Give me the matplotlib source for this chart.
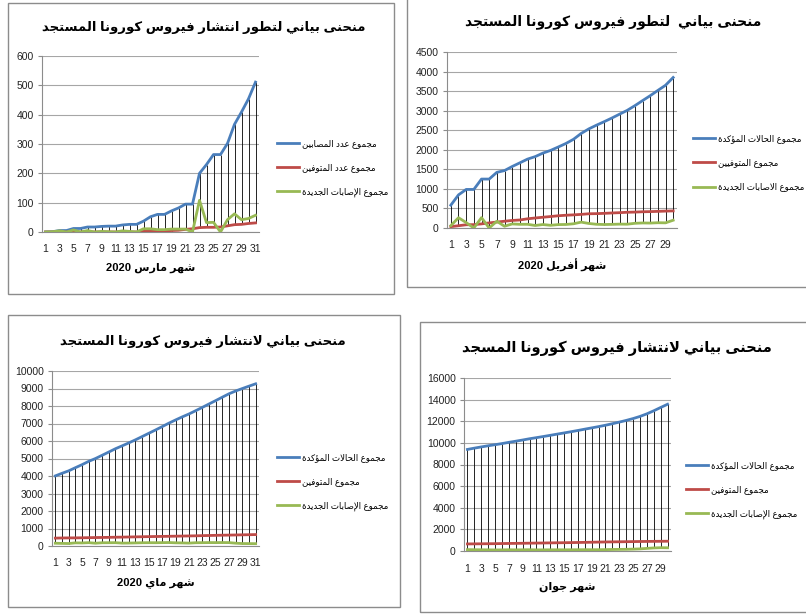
import numpy as np
import matplotlib
matplotlib.use("Agg")
import matplotlib.pyplot as plt
from matplotlib.patches import Rectangle

plt.rcParams["font.family"] = ["Liberation Sans", "DejaVu Sans"]

# ---- data ----
mar_days = list(range(1, 32))
mar_cases = [0, 1, 5, 5, 12, 12, 17, 17, 19, 20, 20, 24, 26, 26, 37, 52, 60, 60, 72, 82,
             95, 95, 200, 230, 264, 264, 302, 367, 409, 454, 511]
mar_deaths = [0, 0, 0, 0, 0, 0, 0, 0, 0, 0, 0, 0, 0, 0, 2, 3, 4, 4, 5, 6,
              9, 11, 15, 16, 16, 17, 21, 25, 26, 29, 31]
mar_new = [0, 1, 4, 0, 7, 0, 5, 0, 2, 1, 0, 4, 2, 0, 11, 11, 8, 8, 10, 10,
           10, 0, 108, 32, 33, 0, 42, 62, 42, 46, 57]

apr_days = list(range(1, 31))
apr_cases = [584, 847, 986, 986, 1251, 1251, 1423, 1468, 1572, 1666, 1761, 1825, 1914, 1983,
             2070, 2160, 2268, 2418, 2534, 2629, 2718, 2811, 2910, 3007, 3127, 3256, 3382,
             3517, 3649, 3848]
apr_deaths = [35, 58, 83, 86, 105, 130, 152, 173, 193, 205, 235, 256, 275, 293, 313, 326,
              336, 348, 364, 367, 375, 384, 392, 402, 407, 415, 419, 425, 432, 437]
apr_new = [60, 263, 139, 0, 265, 0, 172, 45, 104, 94, 95, 64, 89, 69, 87, 90, 108, 150,
           116, 95, 89, 93, 99, 97, 120, 129, 126, 135, 132, 199]

may_days = list(range(1, 32))
may_cases = [4006, 4154, 4295, 4474, 4648, 4838, 4997, 5182, 5369, 5558, 5723, 5891, 6067,
             6253, 6442, 6629, 6821, 7019, 7201, 7377, 7542, 7728, 7918, 8113, 8306, 8503,
             8697, 8857, 8997, 9134, 9267]
may_deaths = [450, 459, 463, 465, 470, 476, 483, 488, 494, 502, 507, 515, 522, 529, 536, 542,
              548, 555, 561, 568, 575, 582, 592, 600, 609, 617, 623, 630, 638, 645, 653]
may_new = [158, 148, 141, 179, 174, 190, 159, 185, 187, 189, 165, 168, 176, 186, 189, 187,
           192, 198, 182, 176, 165, 186, 190, 195, 193, 197, 194, 160, 140, 137, 133]

jun_days = list(range(1, 31))
jun_cases = [9394, 9513, 9626, 9733, 9831, 9935, 10050, 10154, 10265, 10382, 10484, 10589,
             10698, 10810, 10919, 11031, 11147, 11268, 11385, 11504, 11631, 11771, 11920,
             12076, 12248, 12445, 12685, 12968, 13273, 13571]
jun_deaths = [653, 661, 666, 673, 677, 690, 698, 705, 715, 724, 732, 741, 751, 760, 767, 777,
              788, 799, 811, 825, 836, 845, 852, 861, 869, 878, 885, 892, 897, 905]
jun_new = [127, 119, 113, 107, 98, 104, 115, 104, 111, 117, 102, 105, 109, 112, 109, 112,
           116, 121, 117, 119, 127, 140, 149, 156, 172, 197, 240, 283, 305, 298]

titles = ["منحنى بياني لتطور انتشار فيروس كورونا المستجد",
          "منحنى بياني  لتطور فيروس كورونا المستجد",
          "منحنى بياني لانتشار فيروس كورونا المستجد",
          "منحنى بياني لانتشار فيروس كورونا المسجد"]
xlabels = ["شهر مارس 2020", "شهر أفريل 2020", "شهر ماي 2020", "شهر جوان"]
legends = [["مجموع عدد المصابين", "مجموع عدد المتوفين", "مجموع الإصابات الجديدة"],
           ["مجموع الحالات المؤكدة", "مجموع المتوفيين", "مجموع الاصابات الجديدة"],
           ["مجموع الحالات المؤكدة", "مجموع المتوفين", "مجموع الإصابات الجديدة"],
           ["مجموع الحالات المؤكدة", "مجموع المتوفين", "مجموع الإصابات الجديدة"]]
yticks = [np.arange(0, 601, 100), np.arange(0, 4501, 500),
          np.arange(0, 10001, 1000), np.arange(0, 16001, 2000)]

BLUE, RED, GREEN = "#4a7ebb", "#be4b48", "#98b954"

# ---- tiny arabic shaper (matplotlib has no bidi / joining) ----
def _f(start, n):
    return [chr(start + i) for i in range(n)]

AR = {
    "ء": ["\ufe80"], "آ": _f(0xFE81, 2), "أ": _f(0xFE83, 2), "ؤ": _f(0xFE85, 2),
    "إ": _f(0xFE87, 2), "ئ": _f(0xFE89, 4), "ا": _f(0xFE8D, 2), "ب": _f(0xFE8F, 4),
    "ة": _f(0xFE93, 2), "ت": _f(0xFE95, 4), "ث": _f(0xFE99, 4), "ج": _f(0xFE9D, 4),
    "ح": _f(0xFEA1, 4), "خ": _f(0xFEA5, 4), "د": _f(0xFEA9, 2), "ذ": _f(0xFEAB, 2),
    "ر": _f(0xFEAD, 2), "ز": _f(0xFEAF, 2), "س": _f(0xFEB1, 4), "ش": _f(0xFEB5, 4),
    "ص": _f(0xFEB9, 4), "ض": _f(0xFEBD, 4), "ط": _f(0xFEC1, 4), "ظ": _f(0xFEC5, 4),
    "ع": _f(0xFEC9, 4), "غ": _f(0xFECD, 4), "ف": _f(0xFED1, 4), "ق": _f(0xFED5, 4),
    "ك": _f(0xFED9, 4), "ل": _f(0xFEDD, 4), "م": _f(0xFEE1, 4), "ن": _f(0xFEE5, 4),
    "ه": _f(0xFEE9, 4), "و": _f(0xFEED, 2), "ى": _f(0xFEEF, 2), "ي": _f(0xFEF1, 4),
}
LAM_ALEF = {"آ": 0xFEF5, "أ": 0xFEF7, "إ": 0xFEF9, "ا": 0xFEFB}


def shape_word(w):
    toks, i = [], 0
    while i < len(w):
        if w[i] == "ل" and i + 1 < len(w) and w[i + 1] in LAM_ALEF:
            toks.append(("LA", w[i + 1]))
            i += 2
        else:
            toks.append(("C", w[i]))
            i += 1

    def dual(t):
        return t[0] == "C" and t[1] in AR and len(AR[t[1]]) == 4

    def arabic(t):
        return t[0] == "LA" or t[1] in AR

    out = []
    for k, t in enumerate(toks):
        pj = k > 0 and dual(toks[k - 1]) and arabic(t)
        nj = k + 1 < len(toks) and dual(t) and arabic(toks[k + 1])
        if t[0] == "LA":
            out.append(chr(LAM_ALEF[t[1]] + (1 if pj else 0)))
        elif t[1] in AR:
            f = AR[t[1]]
            if len(f) == 1:
                out.append(f[0])
            elif len(f) == 2:
                out.append(f[1] if pj else f[0])
            else:
                out.append(f[3] if (pj and nj) else f[1] if pj else f[2] if nj else f[0])
        else:
            out.append(t[1])
    return "".join(reversed(out))


def ar(text):
    words = text.split(" ")
    words = [shape_word(w) if any(c in AR for c in w) else w for w in words]
    return " ".join(reversed(words))


# ---- layout in pixels ----
W, H = 806, 614
fig = plt.figure(figsize=(W / 100, H / 100), dpi=100)

boxes = [(8, 3, 394, 294), (407, -2, 812, 287), (8, 315, 400, 607), (420, 322, 812, 612)]
plots = [(42, 56, 259, 232), (447, 52, 677, 228), (52, 371, 259, 546), (464, 378, 671, 551)]
title_pos = [(204, 28), (613, 22), (203, 342), (617, 348)]
title_size = [9.5, 10, 9.5, 10.5]
legend_pos = [(277, 168), (693, 163), (277, 482), (686, 490)]

panels = [
    (mar_days, mar_cases, mar_deaths, mar_new),
    (apr_days, apr_cases, apr_deaths, apr_new),
    (may_days, may_cases, may_deaths, may_new),
    (jun_days, jun_cases, jun_deaths, jun_new),
]

for i, (days, cases, deaths, new) in enumerate(panels):
    l, t, r, b = boxes[i]
    fig.add_artist(Rectangle((l / W, 1 - b / H), (r - l) / W, (b - t) / H,
                             transform=fig.transFigure, fill=False,
                             ec="#8c8c8c", lw=1.0))

    l, t, r, b = plots[i]
    ax = fig.add_axes([l / W, 1 - b / H, (r - l) / W, (b - t) / H])

    lo = np.minimum(np.minimum(cases, deaths), new)
    hi = np.maximum(np.maximum(cases, deaths), new)
    ax.vlines(days, lo, hi, colors="black", lw=0.6, zorder=2)

    ax.plot(days, cases, color=BLUE, lw=2.0, zorder=3, label=ar(legends[i][0]))
    ax.plot(days, deaths, color=RED, lw=2.0, zorder=3, label=ar(legends[i][1]))
    ax.plot(days, new, color=GREEN, lw=2.0, zorder=3, label=ar(legends[i][2]))

    ax.set_xlim(0.5, len(days) + 0.5)
    ax.set_ylim(yticks[i][0], yticks[i][-1])
    ax.set_yticks(yticks[i])
    ax.set_xticks(days[::2])
    ax.tick_params(axis="both", labelsize=7.5, colors="#222222")
    ax.tick_params(axis="x", length=0, pad=9)
    ax.tick_params(axis="y", length=3, color="#8c8c8c", pad=3)
    ax.grid(axis="y", color="#a6a6a6", lw=0.8)
    ax.set_axisbelow(True)
    for s in ("top", "right"):
        ax.spines[s].set_visible(False)
    for s in ("left", "bottom"):
        ax.spines[s].set_color("#8c8c8c")
        ax.spines[s].set_linewidth(0.8)

    ax.set_xlabel(ar(xlabels[i]), fontsize=8, fontweight="bold", labelpad=6)

    tx, ty = title_pos[i]
    fig.text(tx / W, 1 - ty / H, ar(titles[i]), fontsize=title_size[i], fontweight="bold",
             ha="center", va="center")

    lx, ly = legend_pos[i]
    ax.legend(loc="center left", bbox_to_anchor=(lx / W, 1 - ly / H),
              bbox_transform=fig.transFigure, frameon=False, fontsize=6.2,
              handlelength=2.6, handletextpad=0.25, labelspacing=1.75,
              borderpad=0, borderaxespad=0)

fig.savefig("out.png", dpi=100)
